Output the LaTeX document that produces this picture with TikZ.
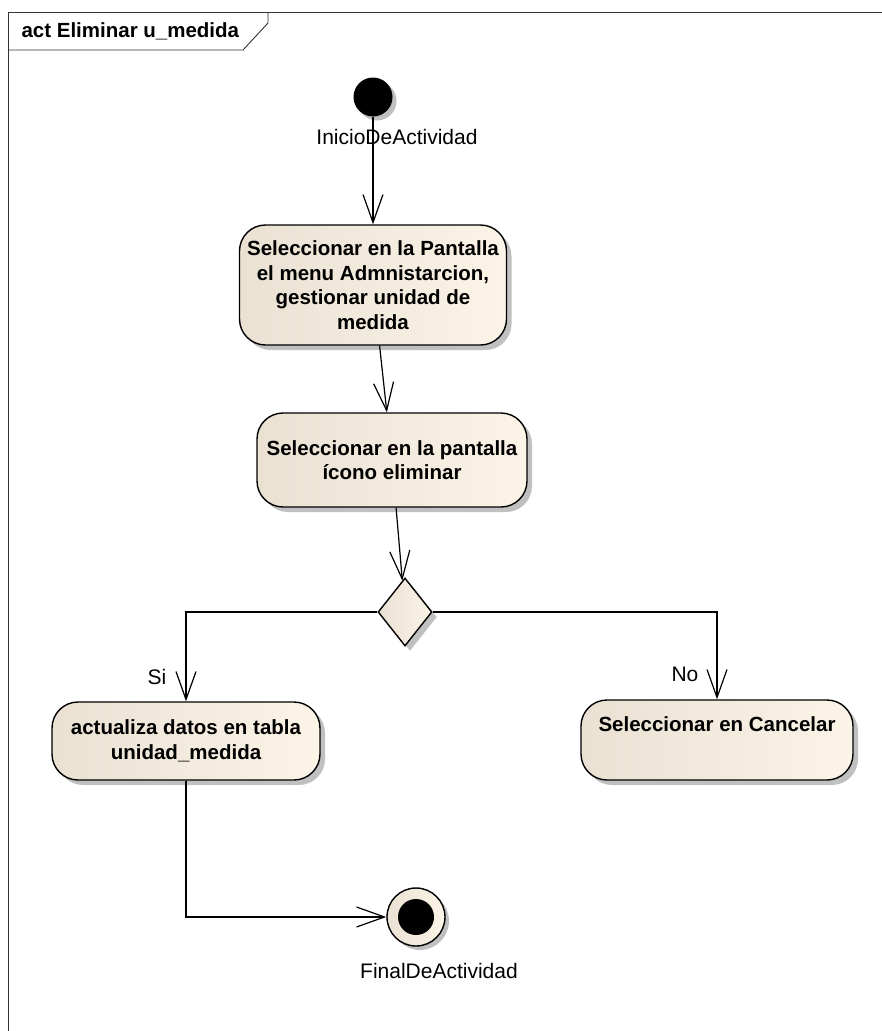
\documentclass[tikz,border=0pt]{standalone}
\usepackage{fontspec}
\setmainfont{Liberation Sans}
\usepackage{tikz}
\usetikzlibrary{positioning,arrows.meta,shapes.geometric,shadows}
\definecolor{actleft}{RGB}{234,225,211}
\definecolor{actright}{RGB}{251,244,231}
\definecolor{shadowgray}{RGB}{192,192,192}

\begin{document}
\begin{tikzpicture}[
  x=1pt, y=-1pt,
  every node/.style={font=\fontsize{21}{24}\selectfont},
  action/.style={
    draw,
    rectangle,
    rounded corners=26pt,
    line width=1.4pt,
    align=center,
    inner sep=0pt,
    left color=actleft, right color=actright,
    drop shadow={shadow xshift=5pt, shadow yshift=-5pt, fill=shadowgray, opacity=1},
    font=\bfseries\fontsize{20.5}{24.5}\selectfont
  },
  decision/.style={
    draw, diamond, line width=1.4pt, inner sep=0pt,
    minimum width=54pt, minimum height=68pt,
    left color=actleft, right color=actright,
    drop shadow={shadow xshift=5pt, shadow yshift=-5pt, fill=shadowgray, opacity=1}
  },
  flow/.style={line width=1.2pt, -{Straight Barb[length=28pt,width=20pt,line width=1.2pt]}}
]
\useasboundingbox (0,0) rectangle (882,1031);

\draw[line width=0.9pt, black!80] (8,1031) -- (8,12) -- (882,12);
\draw[line width=0.9pt, black!80] (8,50) -- (243,50) -- (268,23) -- (268,12);
\node[anchor=west, font=\bfseries\fontsize{20.5}{24}\selectfont] (title) at (18,31) {act Eliminar u\_medida};

\node[circle, fill=black, minimum size=39pt, inner sep=0pt,
  drop shadow={shadow xshift=4pt, shadow yshift=-4pt, fill=shadowgray, opacity=1}] (start) at (373,97) {};
\node (startlbl) at (397,137) {InicioDeActividad};

\node[action, minimum width=267pt, minimum height=120pt] (n1) at (373,285)
{Seleccionar en la Pantalla\\el menu Admnistarcion,\\gestionar unidad de\\medida};

\node[action, minimum width=270pt, minimum height=94pt] (n2) at (392,460)
{Seleccionar en la pantalla\\ícono eliminar};

\node[decision] (dec) at (405,612) {};

\node[action, minimum width=268pt, minimum height=78pt] (n3) at (186,741)
{actualiza datos en tabla\\unidad\_medida};

\node[action, minimum width=272pt, minimum height=80pt] (n4) at (717,740)
{Seleccionar en Cancelar\\ \strut};

\node[circle, draw, line width=1.4pt, minimum size=58pt, inner sep=0pt,
  left color=actleft, right color=actright,
  drop shadow={shadow xshift=4pt, shadow yshift=-4pt, fill=shadowgray, opacity=1}] (fin) at (416,917) {};
\node[circle, fill=black, minimum size=36pt, inner sep=0pt] (finin) at (fin.center) {};
\node (finlbl) at (439,971) {FinalDeActividad};

\draw[flow] (start) -- (n1);
\draw[flow] (n1) -- (n2);
\draw[flow] (n2) -- (dec);
\draw[flow] (dec.west) -| (n3);
\draw[flow] (dec.east) -| (n4);
\draw[flow] (n3) |- (fin);

\node (si) at (157,677) {Si};
\node (no) at (685,674) {No};

\end{tikzpicture}
\end{document}
